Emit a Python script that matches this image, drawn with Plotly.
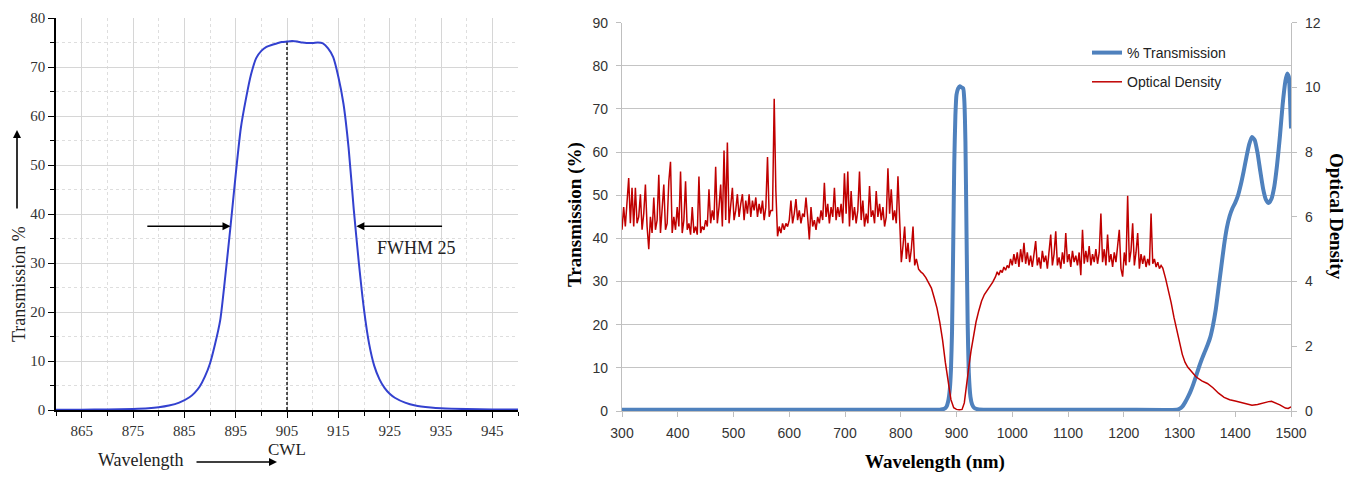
import plotly.graph_objects as go

# ---------------- Left chart data (narrow band filter) ----------------
left_wl = [860, 865, 870, 875, 878, 880, 882, 884, 886, 887, 888, 889, 890, 891, 892, 893,
           894, 895, 896, 897, 898, 899, 900, 901, 902, 903, 904, 905, 906, 907, 908, 910,
           911, 912, 913, 914, 915, 916, 917, 918, 919, 920, 921, 922, 923, 924, 925, 926,
           928, 930, 933, 935, 940, 945, 950]
left_trans = [0.05, 0.07, 0.1, 0.2, 0.35, 0.55, 0.9, 1.5, 2.6, 3.5, 4.8, 6.8, 9.5, 13.5, 18.4, 27.5,
              37.5, 48, 57.5, 63.5, 68.5, 71.8, 73.3, 74.1, 74.5, 74.8, 75.1, 75.2, 75.3, 75.2, 75.0, 74.9,
              75.0, 74.8, 73.8, 72, 68, 62.5, 53.5, 41, 30, 20.5, 13.5, 9, 6.3, 4.5, 3.3, 2.5,
              1.5, 0.9, 0.5, 0.35, 0.18, 0.1, 0.08]
cwl = 905
fwhm_left = 894
fwhm_right = 918.5
half_max = 37.5
fwhm_label = "FWHM 25"
left_x_ticks = [865, 875, 885, 895, 905, 915, 925, 935, 945]

# ---------------- Right chart data ----------------
trans_wl = [300, 400, 500, 600, 700, 800, 870, 878, 882, 885, 888, 890, 892, 894, 896, 898,
            900, 903, 906, 909, 912, 914, 916, 918, 920, 922, 925, 928, 932, 940, 1000, 1100,
            1200, 1295, 1300, 1305, 1310, 1315, 1320, 1325, 1330, 1335, 1340, 1345, 1350, 1355,
            1360, 1365, 1370, 1375, 1380, 1385, 1390, 1395, 1400, 1405, 1410, 1415, 1420, 1425,
            1430, 1435, 1440, 1445, 1450, 1455, 1460, 1465, 1470, 1475, 1480, 1485, 1490, 1493,
            1496, 1498, 1500]
trans_vals = [0.3, 0.3, 0.3, 0.3, 0.3, 0.3, 0.3, 0.5, 1.0, 2.2, 5.0, 9.5, 18.5, 37.5, 57.5, 68.5,
              73.3, 74.8, 75.3, 75.0, 74.8, 72.0, 62.5, 41.0, 20.5, 9.0, 3.3, 1.5, 0.7, 0.35, 0.3, 0.3,
              0.3, 0.3, 0.5, 1.0, 2.0, 3.2, 4.6, 6.3, 8.2, 10.2, 12.0, 13.6, 15.2, 17.0,
              19.8, 23.5, 28.5, 33.5, 38.5, 42.5, 45.2, 47.0, 48.3, 50.0, 52.5, 55.5, 58.8, 61.8,
              63.5, 62.8, 59.8, 55.5, 51.5, 49.0, 48.2, 49.2, 52.0, 57.0, 63.5, 71.0, 76.5, 78.2,
              77.5, 73.0, 65.5]

# Optical density: noisy blocking band 300-798 nm (3 nm steps)
od_wl_a = list(range(300, 799, 3))
od_a = [5.6, 6.3, 5.7, 6.4, 7.2, 5.8, 6.9, 5.7, 6.9, 5.8,
        6.0, 6.7, 5.6, 6.1, 7.0, 5.7, 5.0, 6.0, 5.5, 6.6,
        5.6, 5.9, 7.3, 5.5, 6.2, 7.0, 5.6, 5.8, 7.1, 7.7,
        5.5, 6.0, 5.6, 6.3, 5.7, 7.4, 5.5, 5.9, 7.1, 5.6,
        5.8, 5.45, 6.3, 5.5, 5.7, 5.45, 7.25, 5.5, 5.7, 5.6,
        5.9, 5.7, 6.85, 5.8, 6.2, 5.9, 7.55, 5.8, 6.3, 7.0,
        5.7, 8.05, 5.9, 8.3, 5.8, 6.3, 6.9, 5.9, 6.2, 6.7,
        6.0, 6.4, 6.7, 5.9, 6.5, 6.1, 6.7, 6.0, 6.5, 6.2,
        6.6, 6.0, 6.4, 6.1, 6.5, 5.9, 6.3, 7.85, 6.0, 6.2,
        6.2, 9.65, 6.8, 5.4, 5.7, 5.5, 5.8, 5.6, 5.8, 5.7,
        5.9, 6.5, 5.8, 6.1, 6.55, 5.9, 6.2, 5.8, 6.1, 6.0,
        6.6, 6.0, 5.3, 6.3, 5.7, 5.9, 5.6, 6.0, 5.8, 6.2,
        5.9, 7.05, 6.0, 6.4, 5.8, 6.3, 6.0, 6.9, 5.9, 6.3,
        6.0, 6.4, 5.8, 7.35, 6.1, 7.4, 5.7, 6.8, 5.9, 6.3,
        5.8, 6.2, 7.4, 5.9, 6.5, 5.7, 6.1, 5.8, 6.95, 6.0,
        6.2, 5.8, 6.8, 6.0, 6.4, 5.9, 6.3, 5.7, 6.0, 7.5,
        6.1, 6.85, 5.9, 6.2, 5.8, 7.25, 5.8]
# step down 801-828 nm
od_wl_b = list(range(801, 829, 3))
od_b = [4.6, 5.1, 5.7, 4.7, 5.2, 4.6, 5.0, 5.7, 4.5, 4.7]
# smooth edge around the passband
od_wl_c = [832, 836, 840, 845, 850, 855, 860, 865, 870, 875, 880, 885, 890, 895, 900,
           905, 910, 914, 918, 922, 926, 930, 935, 940, 945, 950, 955, 960, 965]
od_c = [4.38, 4.3, 4.24, 4.12, 3.98, 3.8, 3.5, 3.18, 2.75, 2.2, 1.5, 0.85, 0.35, 0.1, 0.05,
        0.04, 0.05, 0.25, 0.72, 1.35, 1.85, 2.3, 2.75, 3.1, 3.4, 3.6, 3.73, 3.83, 3.98]
# noisy blocking band 970-1267 nm
od_wl_d = list(range(970, 1268, 3))
od_d = [4.15, 4.3, 4.2, 4.35, 4.28, 4.45, 4.35, 4.5, 4.42, 4.7,
        4.5, 4.85, 4.55, 4.9, 4.45, 5.0, 4.6, 5.2, 4.55, 4.9,
        4.5, 4.8, 4.45, 4.9, 5.25, 4.5, 4.75, 4.4, 4.95, 4.6,
        4.8, 4.4, 4.9, 5.45, 4.5, 4.85, 5.55, 4.5, 4.75, 4.4,
        4.9, 4.55, 5.5, 4.6, 4.85, 4.45, 4.95, 4.6, 4.8, 4.5,
        4.9, 4.2, 5.6, 4.55, 4.95, 4.6, 5.1, 4.5, 4.85, 4.6,
        5.0, 4.55, 4.9, 6.1, 4.6, 5.0, 4.5, 5.45, 4.6, 4.85,
        4.45, 4.9, 4.6, 5.05, 5.6, 4.4, 4.15, 4.9, 4.5, 6.65,
        4.6, 4.95, 5.8, 4.5, 4.9, 5.5, 4.4, 4.85, 4.55, 4.8,
        4.45, 4.7, 4.5, 6.1, 4.55, 4.7, 4.45, 4.6, 4.4, 4.5]
# long-wave tail
od_wl_e = [1270, 1275, 1280, 1285, 1290, 1295, 1300, 1305, 1310, 1315, 1320, 1330, 1340, 1350,
           1360, 1370, 1380, 1390, 1400, 1410, 1420, 1430, 1440, 1450, 1460, 1465, 1470, 1480,
           1490, 1495, 1500]
od_e = [4.42, 4.1, 3.75, 3.35, 2.9, 2.48, 2.1, 1.75, 1.5, 1.35, 1.25, 1.05, 0.93, 0.85,
        0.72, 0.55, 0.42, 0.35, 0.31, 0.26, 0.21, 0.18, 0.2, 0.25, 0.29, 0.3, 0.27, 0.19,
        0.09, 0.08, 0.13]

od_wl = od_wl_a + od_wl_b + od_wl_c + od_wl_d + od_wl_e
od_vals = od_a + od_b + od_c + od_d + od_e

right_x_ticks = list(range(300, 1501, 100))
right_y_ticks = list(range(0, 91, 10))
right_y2_ticks = list(range(0, 13, 2))

# ---------------- Figure ----------------
W, H = 1359, 477
OX, OY = 8, 8  # page offset of the plot div (default body margin)
SERIF = "Liberation Serif, Times New Roman, serif"
SANS = "Liberation Sans, Arial, sans-serif"

def px_x(p):
    return (p - OX) / W

def px_y(p):
    return 1 - (p - OY) / H

fig = go.Figure()

# left chart traces
fig.add_trace(go.Scatter(x=[cwl, cwl], y=[0, max(left_trans)], mode="lines",
                         line=dict(color="black", width=1.3, dash="3px,2px"),
                         xaxis="x", yaxis="y", showlegend=False, hoverinfo="skip"))
fig.add_trace(go.Scatter(x=left_wl, y=left_trans, mode="lines",
                         line=dict(color="#3341cf", width=2, shape="spline", smoothing=0.6),
                         xaxis="x", yaxis="y", showlegend=False))

# right chart traces
fig.add_trace(go.Scatter(x=trans_wl, y=trans_vals, mode="lines", name="% Transmission",
                         line=dict(color="#4f81bd", width=4, shape="spline", smoothing=0.5),
                         xaxis="x2", yaxis="y2", legendgroup="a"))
fig.add_trace(go.Scatter(x=od_wl, y=od_vals, mode="lines", name="Optical Density",
                         line=dict(color="#c00000", width=1.5),
                         xaxis="x2", yaxis="y3", legendgroup="b"))

left_axis_common = dict(
    showline=True, linecolor="black", linewidth=1.5, automargin=False,
    ticks="outside", ticklen=6, tickwidth=1.3, tickcolor="black",
    showgrid=True, gridcolor="#d6d6d6", gridwidth=1, zeroline=False,
    tickfont=dict(family=SERIF, size=15, color="#333333"),
)
right_axis_common = dict(
    showline=True, linecolor="#bfbfbf", linewidth=1.3, automargin=False,
    ticks="outside", ticklen=5, tickwidth=1.3, tickcolor="#bfbfbf",
    zeroline=False, tickfont=dict(family=SANS, size=14, color="#333333"),
)

fig.update_layout(
    width=W, height=H,
    margin=dict(l=0, r=0, t=0, b=0, pad=0, autoexpand=False),
    paper_bgcolor="white", plot_bgcolor="white",
    xaxis=dict(domain=[px_x(56), px_x(518)], range=[860, 950], anchor="y",
               tickvals=left_x_ticks,
               minor=dict(dtick=5, tick0=860, ticks="outside", ticklen=4, tickcolor="black",
                          showgrid=True, gridcolor="#dedede", griddash="dot"),
               **left_axis_common),
    yaxis=dict(domain=[px_y(410), px_y(18)], range=[0, 80], dtick=10, anchor="x",
               minor=dict(dtick=5, ticks="outside", ticklen=4, tickcolor="black",
                          showgrid=True, gridcolor="#dedede", griddash="dot"),
               **left_axis_common),
    xaxis2=dict(domain=[px_x(622), px_x(1291)], range=[300, 1500], anchor="y2",
                tickvals=right_x_ticks, showgrid=False, ticklabelstandoff=4,
                **right_axis_common),
    yaxis2=dict(domain=[px_y(411), px_y(22.7)], range=[0, 90], anchor="x2",
                tickvals=right_y_ticks, showgrid=True, gridcolor="#c4c4c4", gridwidth=1.4,
                ticklabelstandoff=5, **right_axis_common),
    yaxis3=dict(domain=[px_y(411), px_y(22.7)], range=[0, 12], anchor="x2", overlaying="y2",
                side="right", tickvals=right_y2_ticks, showgrid=False, ticklabelstandoff=5,
                **right_axis_common),
    showlegend=True,
    legend=dict(x=px_x(1087), y=px_y(37), xanchor="left", yanchor="top",
                bgcolor="rgba(0,0,0,0)", font=dict(family=SANS, size=14, color="#222222"),
                tracegroupgap=8, itemwidth=30),
)

C = dict(xanchor="center", yanchor="middle", showarrow=False)
ann = []
# left chart texts
ann.append(dict(x=cwl, xref="x", y=px_y(449), yref="paper", text="CWL",
                font=dict(family=SERIF, size=17, color="#222222"), **C))
ann.append(dict(x=px_x(141), xref="paper", y=px_y(460), yref="paper", text="Wavelength",
                font=dict(family=SERIF, size=18, color="#222222"), **C))
ann.append(dict(x=px_x(277), xref="paper", y=px_y(462), yref="paper", text="",
                showarrow=True, ax=-82, ay=0, arrowhead=2, arrowsize=1, arrowwidth=1.6,
                arrowcolor="black"))
ann.append(dict(x=px_x(19), xref="paper", y=px_y(284), yref="paper", text="Transmission %",
                textangle=-90, font=dict(family=SERIF, size=18, color="#222222"), **C))
ann.append(dict(x=px_x(17), xref="paper", y=px_y(130), yref="paper", text="",
                showarrow=True, ax=0, ay=80, arrowhead=2, arrowsize=1, arrowwidth=1.6,
                arrowcolor="black"))
ann.append(dict(x=fwhm_left, xref="x", y=half_max, yref="y", ax=877.5, axref="x",
                ay=half_max, ayref="y", text="", showarrow=True, arrowhead=2, arrowsize=1,
                arrowwidth=1.6, arrowcolor="black"))
ann.append(dict(x=fwhm_right, xref="x", y=half_max, yref="y", ax=935.5, axref="x",
                ay=half_max, ayref="y", text="", showarrow=True, arrowhead=2, arrowsize=1,
                arrowwidth=1.6, arrowcolor="black"))
ann.append(dict(x=930.3, xref="x", y=33, yref="y", text=fwhm_label,
                font=dict(family=SERIF, size=18, color="#222222"), **C))
# right chart titles
ann.append(dict(x=px_x(575), xref="paper", y=px_y(215), yref="paper", text="<b>Transmission (%)</b>",
                textangle=-90, font=dict(family=SERIF, size=19, color="black"), **C))
ann.append(dict(x=px_x(1337), xref="paper", y=px_y(216), yref="paper", text="<b>Optical Density</b>",
                textangle=90, font=dict(family=SERIF, size=19, color="black"), **C))
ann.append(dict(x=px_x(935), xref="paper", y=px_y(462), yref="paper", text="<b>Wavelength (nm)</b>",
                font=dict(family=SERIF, size=19, color="black"), **C))
fig.update_layout(annotations=ann)

fig.write_html("out.html")
